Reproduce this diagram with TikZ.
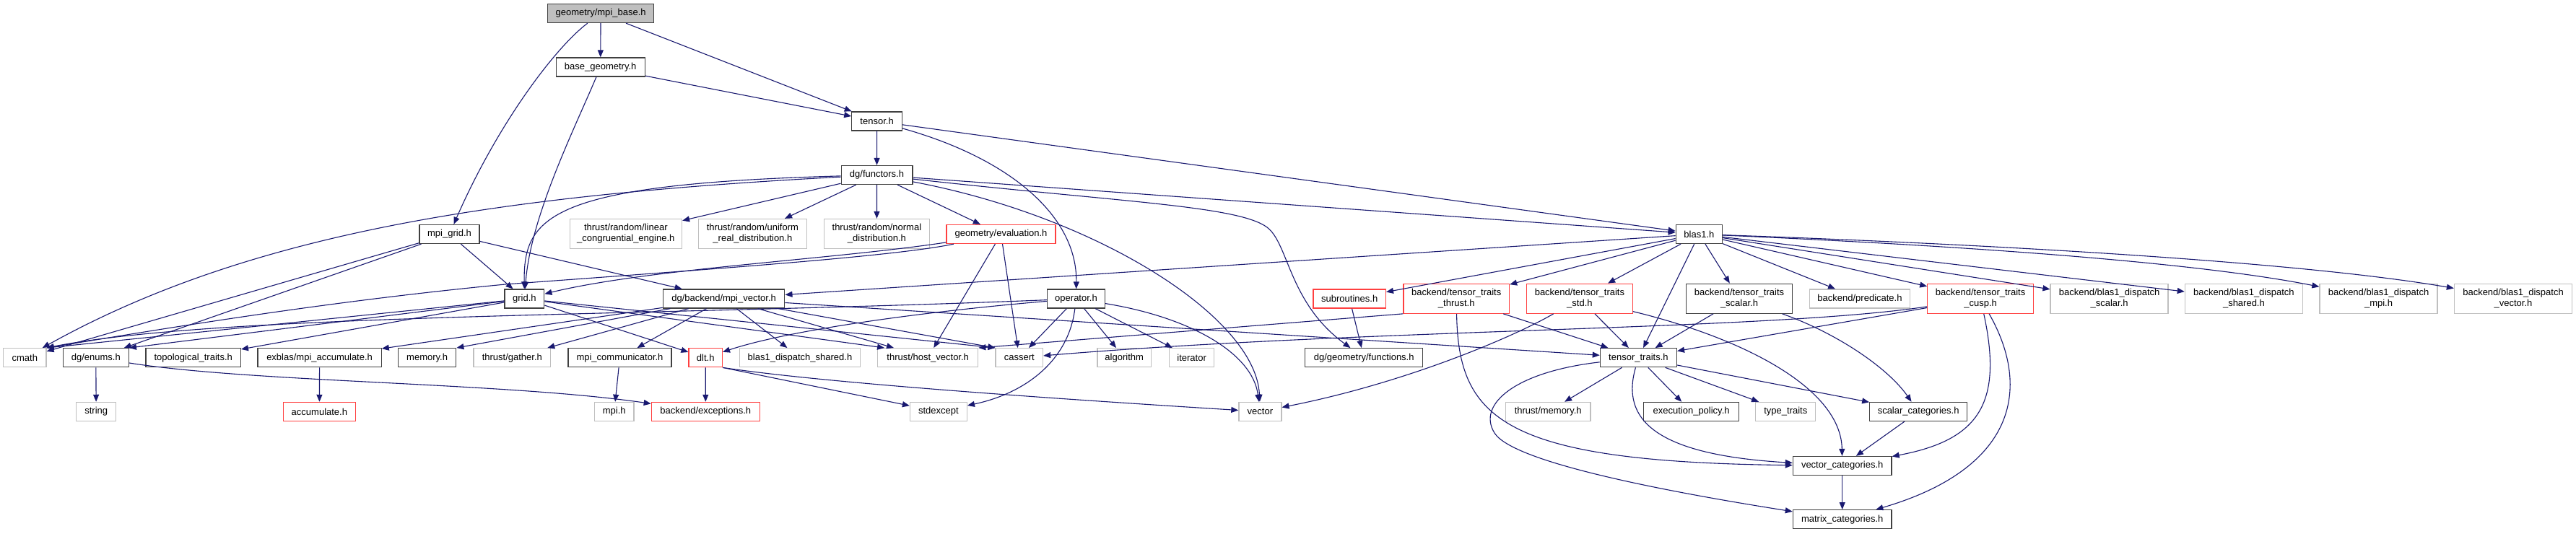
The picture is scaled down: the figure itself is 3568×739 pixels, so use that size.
\documentclass[tikz,border=0pt]{standalone}
\usepackage{fontspec}
\setmainfont{Liberation Sans}
\usetikzlibrary{arrows.meta}
\definecolor{edgec}{HTML}{191970}
\definecolor{greyb}{HTML}{BFBFBF}
\definecolor{redb}{HTML}{FF4040}
\definecolor{blackb}{HTML}{404040}
\tikzset{
  nbox/.style={rectangle, draw, line width=1.3pt, inner sep=0pt, minimum height=26pt, align=center, font=\fontsize{13}{15}\selectfont},
  blk/.style={nbox, draw=blackb},
  gry/.style={nbox, draw=greyb},
  rdb/.style={nbox, draw=redb},
  rootn/.style={nbox, draw=blackb, fill=greyb},
  twol/.style={minimum height=41pt},
  e/.style={draw=edgec, line width=1.1pt, -{Triangle[length=10pt,width=8pt]}},
}
\begin{document}
\begin{tikzpicture}[x=1pt,y=-1pt]
\fill[white] (0,0) rectangle (3568,739);
\useasboundingbox (0,0) rectangle (3568,739);
% row 1-4
\node[rootn, minimum width=146.6pt] (root) at (832.1,18.5) {geometry/mpi\_base.h};
\node[blk, minimum width=123pt] (basegeo) at (831.7,93) {base\_geometry.h};
\node[blk, minimum width=69.6pt] (tensor) at (1214.6,168) {tensor.h};
\node[blk, minimum width=98.7pt] (functors) at (1214.5,242.5) {dg/functors.h};
% row 5
\node[blk, minimum width=83pt] (mpigrid) at (622.5,324.5) {mpi\_grid.h};
\node[gry, twol, minimum width=155.3pt] (linear) at (866.8,324) {thrust/random/linear\\\_congruential\_engine.h};
\node[gry, twol, minimum width=150pt] (uniform) at (1042.4,324) {thrust/random/uniform\\\_real\_distribution.h};
\node[gry, twol, minimum width=146pt] (normal) at (1214.4,324) {thrust/random/normal\\\_distribution.h};
\node[rdb, minimum width=151pt] (evaluation) at (1386.5,324.5) {geometry/evaluation.h};
\node[blk, minimum width=64.3pt] (blas1) at (2353.4,324.5) {blas1.h};
% row 6
\node[blk, minimum width=54.7pt] (grid) at (726.4,414) {grid.h};
\node[blk, minimum width=168.4pt] (mpivector) at (1002.6,414) {dg/backend/mpi\_vector.h};
\node[blk, minimum width=79.6pt] (operator) at (1490.5,414) {operator.h};
\node[rdb, minimum width=100.3pt] (subroutines) at (1869.2,414) {subroutines.h};
\node[rdb, twol, minimum width=146.6pt] (ttthrust) at (2017.2,413.7) {backend/tensor\_traits\\\_thrust.h};
\node[rdb, twol, minimum width=146.5pt] (ttstd) at (2187.9,413.7) {backend/tensor\_traits\\\_std.h};
\node[blk, twol, minimum width=146.5pt] (ttscalar) at (2409,413.7) {backend/tensor\_traits\\\_scalar.h};
\node[gry, minimum width=138.5pt] (predicate) at (2576,414) {backend/predicate.h};
\node[rdb, twol, minimum width=146.6pt] (ttcusp) at (2743.1,413.7) {backend/tensor\_traits\\\_cusp.h};
\node[gry, twol, minimum width=163pt] (dispscalar) at (2921.6,413.7) {backend/blas1\_dispatch\\\_scalar.h};
\node[gry, twol, minimum width=163pt] (dispshared) at (3107.9,413.7) {backend/blas1\_dispatch\\\_shared.h};
\node[gry, twol, minimum width=163pt] (dispmpi) at (3294.5,413.7) {backend/blas1\_dispatch\\\_mpi.h};
\node[gry, twol, minimum width=163pt] (dispvector) at (3481,413.7) {backend/blas1\_dispatch\\\_vector.h};
% row 7
\node[gry, minimum width=59.3pt] (cmath) at (34.3,495.7) {cmath};
\node[blk, minimum width=91pt] (enums) at (132.8,495.7) {dg/enums.h};
\node[blk, minimum width=131.3pt] (topological) at (267.7,495.7) {topological\_traits.h};
\node[blk, minimum width=171.1pt] (exblas) at (442.6,495.7) {exblas/mpi\_accumulate.h};
\node[blk, minimum width=80.3pt] (memory) at (591.6,495.7) {memory.h};
\node[gry, minimum width=106.7pt] (gather) at (709.3,495.7) {thrust/gather.h};
\node[blk, minimum width=142.8pt] (mpicomm) at (858.5,495.7) {mpi\_communicator.h};
\node[rdb, minimum width=46.3pt] (dlt) at (977.2,495.7) {dlt.h};
\node[gry, minimum width=166.5pt] (blasshared) at (1108,495.7) {blas1\_dispatch\_shared.h};
\node[gry, minimum width=138.9pt] (hostvector) at (1285.2,495.7) {thrust/host\_vector.h};
\node[gry, minimum width=65.4pt] (cassert) at (1411.8,495.7) {cassert};
\node[gry, minimum width=74.7pt] (algorithm) at (1557.2,495.7) {algorithm};
\node[gry, minimum width=62.4pt] (iterator) at (1650.6,495.7) {iterator};
\node[blk, minimum width=163pt] (geomfunctions) at (1889.2,495.7) {dg/geometry/functions.h};
\node[blk, minimum width=106pt] (tensortraits) at (2269.4,495.7) {tensor\_traits.h};
% row 8
\node[gry, minimum width=55.1pt] (string) at (133.2,570.4) {string};
\node[rdb, minimum width=100.2pt] (accumulate) at (442.4,570.4) {accumulate.h};
\node[gry, minimum width=54.3pt] (mpih) at (850.7,570.4) {mpi.h};
\node[rdb, minimum width=150pt] (exceptions) at (977.3,570.4) {backend/exceptions.h};
\node[gry, minimum width=78.8pt] (stdexcept) at (1299.9,570.4) {stdexcept};
\node[gry, minimum width=58.9pt] (vector) at (1745.4,570.4) {vector};
\node[gry, minimum width=117.5pt] (thrustmemory) at (2144.2,570.4) {thrust/memory.h};
\node[blk, minimum width=131.6pt] (execpolicy) at (2342.6,570.4) {execution\_policy.h};
\node[gry, minimum width=83pt] (typetraits) at (2473.3,570.4) {type\_traits};
\node[blk, minimum width=134.7pt] (scalarcat) at (2657.1,570.4) {scalar\_categories.h};
% rows 9-10
\node[blk, minimum width=136.6pt] (vectorcat) at (2551.7,645.5) {vector\_categories.h};
\node[blk, minimum width=136.6pt] (matrixcat) at (2551.7,719.7) {matrix\_categories.h};

% edges
\draw[e] (root) .. controls (770,65) and (690,170) .. (mpigrid);
\draw[e] (root) -- (basegeo);
\draw[e] (root) -- (tensor);
\draw[e] (basegeo) -- (tensor);
\draw[e] (basegeo) .. controls (795,180) and (735,300) .. (grid);
\draw[e] (tensor) -- (functors);
\draw[e] (tensor) .. controls (1400,220) and (1492,300) .. (operator);
\draw[e] (tensor) -- (blas1);
\draw[e] (functors) .. controls (700,270) and (350,320) .. (cmath);
\draw[e] (functors) .. controls (760,255) and (725,300) .. (grid);
\draw[e] (functors) -- (linear);
\draw[e] (functors) -- (uniform);
\draw[e] (functors) -- (normal);
\draw[e] (functors) -- (evaluation);
\draw[e] (functors) .. controls (1520,300) and (1740,440) .. (vector);
\draw[e] (functors) -- (blas1);
\draw[e] (functors) .. controls (1550,280) and (1715,285) .. (1755,315) .. controls (1785,337.5) and (1785,420) .. (geomfunctions);
\draw[e] (mpigrid) -- (cmath);
\draw[e] (mpigrid) -- (enums);
\draw[e] (mpigrid) -- (grid);
\draw[e] (mpigrid) -- (mpivector);
\draw[e] (evaluation) .. controls (1240,355) and (1000,372) .. (700,394) .. controls (450,418) and (230,455) .. (cmath.north east);
\draw[e] (evaluation) .. controls (1150,360) and (900,372) .. (grid);
\draw[e] (evaluation) -- (hostvector);
\draw[e] (evaluation) -- (cassert);
\draw[e] (grid) -- (cmath.north east);
\draw[e] (grid) -- (enums.north east);
\draw[e] (grid) -- (topological);
\draw[e] (grid) -- (dlt);
\draw[e] (grid) -- ([xshift=10pt]hostvector.north west);
\draw[e] (grid) -- (cassert.north west);
\draw[e] (mpivector) -- (exblas);
\draw[e] (mpivector) -- (memory.north east);
\draw[e] (mpivector) -- (gather);
\draw[e] (mpivector) -- (mpicomm);
\draw[e] (mpivector) -- (blasshared);
\draw[e] (mpivector) -- (hostvector);
\draw[e] (mpivector) -- (cassert.north west);
\draw[e] (mpivector) -- (tensortraits);
\draw[e] (operator) .. controls (900,438) and (300,435) .. (cmath.north east);
\draw[e] (operator) .. controls (1300,430) and (1100,455) .. (dlt);
\draw[e] (operator) -- (cassert);
\draw[e] (operator) -- (algorithm);
\draw[e] (operator) -- (iterator);
\draw[e] (operator) .. controls (1480,500) and (1420,545) .. (stdexcept);
\draw[e] (operator) .. controls (1650,440) and (1735,490) .. (vector);
\draw[e] (blas1) -- (mpivector);
\draw[e] (blas1) -- (subroutines);
\draw[e] (blas1) -- (ttthrust);
\draw[e] (blas1) -- (ttstd);
\draw[e] (blas1) -- (tensortraits);
\draw[e] (blas1) -- (ttscalar);
\draw[e] (blas1) -- (predicate);
\draw[e] (blas1) -- (ttcusp);
\draw[e] (blas1) -- (dispscalar);
\draw[e] (blas1) -- (dispshared);
\draw[e] (blas1) .. controls (2750,342) and (3050,365) .. (dispmpi);
\draw[e] (blas1) .. controls (2800,340) and (3200,365) .. (dispvector);
\draw[e] (subroutines) -- (geomfunctions);
\draw[e] (ttthrust) -- (tensortraits);
\draw[e] (ttthrust.south west) -- (hostvector.north east);
\draw[e] (ttthrust) .. controls (2020,580) and (2080,640) .. (vectorcat);
\draw[e] (ttstd) -- (tensortraits);
\draw[e] (ttstd) .. controls (2100,465) and (1950,530) .. (vector);
\draw[e] (ttstd) .. controls (2420,470) and (2550,540) .. (vectorcat);
\draw[e] (ttscalar) -- (tensortraits);
\draw[e] (ttscalar) .. controls (2545,462) and (2615,510) .. (scalarcat);
\draw[e] (ttcusp) -- (tensortraits);
\draw[e] (ttcusp) .. controls (2450,458) and (1900,455) .. (cassert);
\draw[e] (ttcusp) .. controls (2775,560) and (2740,610) .. (vectorcat);
\draw[e] (ttcusp) .. controls (2815,540) and (2790,650) .. (matrixcat);
\draw[e] (tensortraits) -- (thrustmemory);
\draw[e] (tensortraits) -- (execpolicy);
\draw[e] (tensortraits) -- (typetraits);
\draw[e] (tensortraits) -- (scalarcat);
\draw[e] (tensortraits) .. controls (2245,580) and (2290,630) .. (vectorcat);
\draw[e] (tensortraits) .. controls (2100,515) and (2045,560) .. (2070,600) .. controls (2095,640) and (2300,680) .. (matrixcat);
\draw[e] (scalarcat) -- (vectorcat);
\draw[e] (vectorcat) -- (matrixcat);
\draw[e] (enums) -- (string);
\draw[e] (enums) .. controls (350,530) and (700,530) .. (exceptions);
\draw[e] (exblas) -- (accumulate);
\draw[e] (mpicomm) -- (mpih);
\draw[e] (dlt) -- (exceptions);
\draw[e] (dlt.south east) -- (stdexcept);
\draw[e] (dlt.south east) .. controls (1150,532) and (1500,555) .. (vector);
\end{tikzpicture}
\end{document}
